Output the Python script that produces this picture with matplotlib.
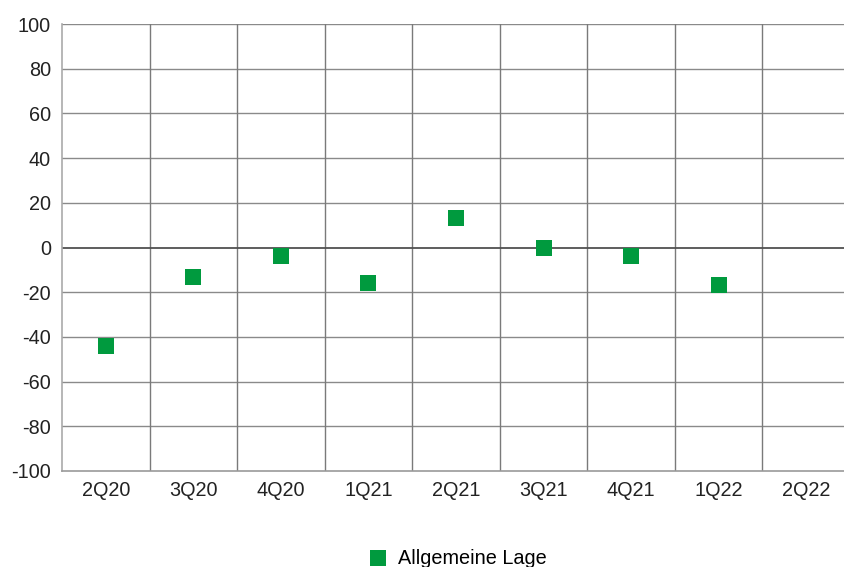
import matplotlib
matplotlib.use("Agg")
import matplotlib.pyplot as plt

categories = ["2Q20", "3Q20", "4Q20", "1Q21", "2Q21", "3Q21", "4Q21", "1Q22", "2Q22"]
values = [-44, -13, -4, -16, 13, 0, -4, -17, None]
series_name = "Allgemeine Lage"
yticks = [-100, -80, -60, -40, -20, 0, 20, 40, 60, 80, 100]

plt.rcParams['font.family'] = ['Liberation Sans', 'DejaVu Sans']

fig = plt.figure(figsize=(8.44, 5.67), dpi=100)
W, H = 844, 567
left, right, top, bottom = 62, 850, 24, 471
ax = fig.add_axes([left / W, 1 - bottom / H, (right - left) / W, (bottom - top) / H])

xs = [i for i, v in enumerate(values) if v is not None]
ys = [v for v in values if v is not None]
ax.plot(xs, ys, linestyle='none', marker='s', markersize=12.0, color='#009A3E',
        markeredgewidth=0, label=series_name, zorder=5, clip_on=False)

ax.set_xlim(-0.5, len(categories) - 0.5)
ax.set_ylim(-100, 100)
ax.set_yticks(yticks)
ax.set_yticklabels([str(t) for t in yticks])
ax.set_xticks(range(len(categories)))
ax.set_xticklabels(categories)

# grid lines
for y in yticks:
    if y == 0:
        ax.axhline(y, color='#505050', lw=1.3, zorder=2)
    elif y != -100:
        ax.axhline(y, color='#8a8a8a', lw=1.0, zorder=1)
for i in range(1, len(categories) + 1):
    ax.axvline(i - 0.5, color='#7a7a7a', lw=1.0, zorder=1)

for s in ['top', 'right']:
    ax.spines[s].set_visible(False)
ax.spines['left'].set_color('#aaaaaa')
ax.spines['left'].set_linewidth(1.2)
ax.spines['bottom'].set_color('#999999')
ax.spines['bottom'].set_linewidth(1.2)
ax.tick_params(axis='both', length=0, labelsize=14.3, colors='#222222')
ax.tick_params(axis='y', pad=8)
ax.tick_params(axis='x', pad=7)

leg = fig.legend(loc='center', bbox_to_anchor=(458 / W, 1 - 559 / H), frameon=False,
                 fontsize=14.3, handlelength=0.8, handletextpad=0.6, markerscale=1.0)

fig.savefig("out.png", dpi=100)
